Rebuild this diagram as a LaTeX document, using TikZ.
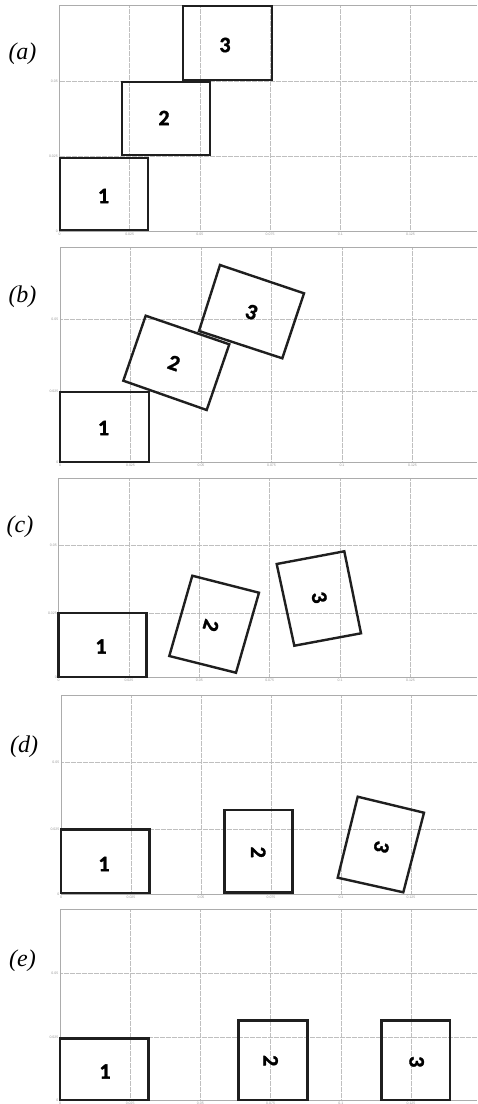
\documentclass[tikz,border=0pt]{standalone}
\usepackage{fontspec}
\setmainfont{Liberation Serif}
\newfontfamily\digitfont[BoldFeatures={FakeBold=1.5}]{Carlito}
\newfontfamily\tickfont{Liberation Sans}
\tikzset{
  gridline/.style={gray!50, line width=0.5pt, dash pattern=on 0.5pt off 0.7pt},
  axisline/.style={gray!65, line width=0.8pt},
  boxline/.style={black!88, line width=2.7pt, line join=miter},
  rotline/.style={black!88, line width=2.4pt, line join=miter},
  boxlabel/.style={font=\digitfont\bfseries\fontsize{22}{22}\selectfont, inner sep=0pt},
  panellabel/.style={font=\itshape\fontsize{24}{24}\selectfont, inner sep=0pt},
  ticklabel/.style={font=\tickfont\fontsize{3.5}{3.5}\selectfont, text=gray!80, inner sep=0.5pt}
}
\newcommand\plotpanel[7]{% #1 x0, #2 step, #3 ybot, #4 y025, #5 y05, #6 top, #7 name
  \foreach \i in {1,...,5} {\draw[gridline] ({#1+\i*#2},#6) -- ({#1+\i*#2},#3);}
  \draw[gridline] (#1,#4) -- (477,#4);
  \draw[gridline] (#1,#5) -- (477,#5);
  \draw[axisline] (477,#6) -- (#1,#6) -- (#1,#3) -- (477,#3);
  \foreach \i/\t in {0/0,1/0.025,2/0.05,3/0.075,4/0.1,5/0.125}
    {\node[ticklabel, anchor=north] (#7x\i) at ({#1+\i*#2},{#3+1}) {\t};}
  \node[ticklabel, anchor=east] (#7y0) at ({#1-1},#3) {0};
  \node[ticklabel, anchor=east] (#7y1) at ({#1-1},#4) {0.025};
  \node[ticklabel, anchor=east] (#7y2) at ({#1-1},#5) {0.05};
}
\begin{document}
\begin{tikzpicture}[x=1pt,y=-1pt]
\useasboundingbox (0,0) rectangle (477,1104);
\fill[white] (0,0) rectangle (477,1104);

% ---------- panel (a)
\plotpanel{59.5}{70.2}{231}{156.5}{81}{5}{pa}
\draw[boxline] (60,158) rectangle (148,230);
\draw[boxline] (122,82) rectangle (210,155);
\draw[boxline] (183,6) rectangle (272,80);
\node[boxlabel] (a1) at (103.5,196) {1};
\node[boxlabel] (a2) at (164,118) {2};
\node[boxlabel] (a3) at (225,45) {3};
\node[panellabel] (la) at (22.5,54) {(a)};

% ---------- panel (b)
\plotpanel{60}{70.5}{462.5}{391.5}{319}{247}{pb}
\draw[boxline] (60,392) rectangle (149,462);
\draw[rotline] (145.7,315.7) -- (229.3,344.3) -- (206.7,410) -- (123.3,380.7) -- cycle;
\draw[rotline] (220,265) -- (304,293.3) -- (282.3,358.3) -- (199,331) -- cycle;
\node[boxlabel] (b1) at (103.5,428) {1};
\node[boxlabel, rotate=-19] (b2) at (174,363) {2};
\node[boxlabel, rotate=-19] (b3) at (251.5,312) {3};
\node[panellabel] (lb) at (22.5,297) {(b)};

% ---------- panel (c)
\plotpanel{58.5}{70.4}{677.5}{613}{545.5}{478}{pc}
\draw[boxline] (58.5,613) rectangle (146.7,677);
\draw[rotline] (192.3,575.7) -- (259,592.7) -- (236,672.7) -- (169.3,656) -- cycle;
\draw[rotline] (276.7,564) -- (344.3,551.3) -- (361,633.3) -- (294.3,645.7) -- cycle;
\node[boxlabel] (c1) at (101,646.5) {1};
\node[boxlabel, rotate=-106] (c2) at (211,625.5) {2};
\node[boxlabel, rotate=-78.5] (c3) at (319.3,597.5) {3};
\node[panellabel] (lc) at (20,526.5) {(c)};

% ---------- panel (d)
\plotpanel{61}{70}{894}{829}{762.3}{695}{pd}
\draw[boxline] (61,829.3) rectangle (149.3,893);
\draw[boxline] (224.3,810) rectangle (292.3,892.7);
\draw[rotline] (357.7,796.7) -- (424,812.7) -- (403.3,892.3) -- (337.7,877.7) -- cycle;
\node[boxlabel] (d1) at (104,864) {1};
\node[boxlabel, rotate=-90] (d2) at (258.3,852.3) {2};
\node[boxlabel, rotate=-104.6] (d3) at (381.5,847) {3};
\node[panellabel] (ld) at (24,747) {(d)};

% ---------- panel (e)
\plotpanel{60}{70.2}{1100.5}{1037.7}{973.3}{909}{pe}
\draw[boxline] (60,1038.3) rectangle (148.7,1100);
\draw[boxline] (238.3,1020.5) rectangle (307.7,1100);
\draw[boxline] (381.7,1020.5) rectangle (450,1100);
\node[boxlabel] (e1) at (105,1071.5) {1};
\node[boxlabel, rotate=-90] (e2) at (270.7,1060.7) {2};
\node[boxlabel, rotate=-90] (e3) at (416.7,1061.7) {3};
\node[panellabel] (le) at (22.5,961) {(e)};
\end{tikzpicture}
\end{document}
